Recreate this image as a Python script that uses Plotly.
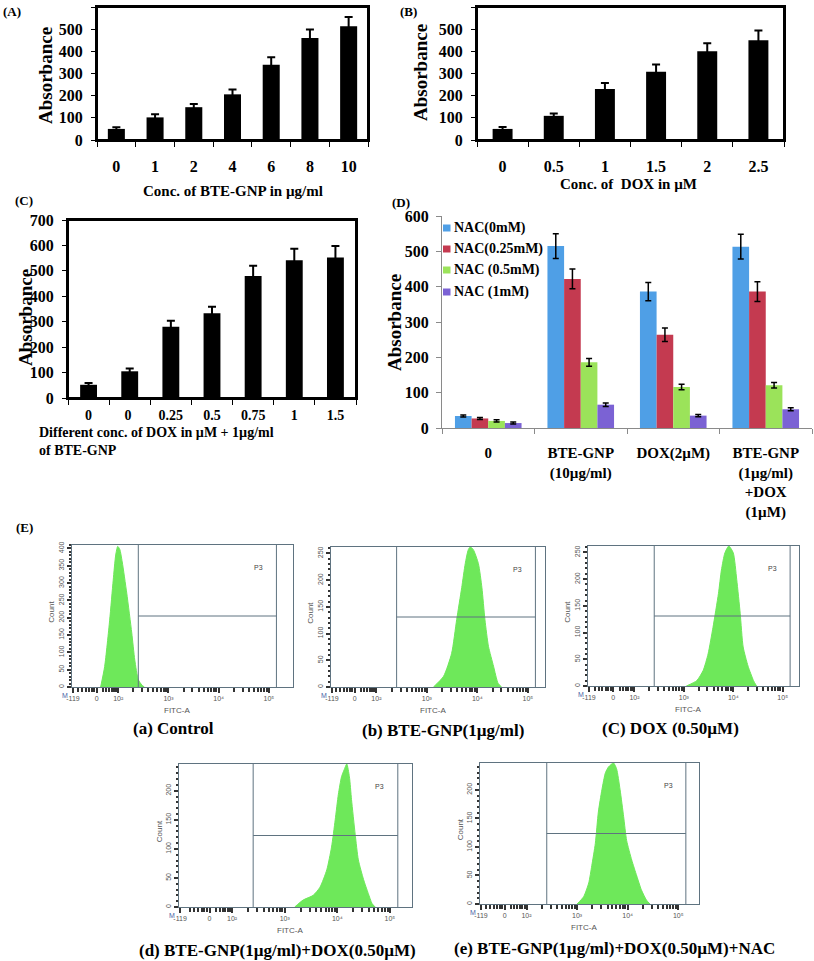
import numpy as np
import plotly.graph_objects as go

W, H = 814, 961

# ---------------- data ----------------
a_cats = ["0", "1", "2", "4", "6", "8", "10"]
a_vals = [50, 102, 148, 206, 340, 460, 513]
a_errs = [8, 14, 14, 22, 33, 38, 42]

b_cats = ["0", "0.5", "1", "1.5", "2", "2.5"]
b_vals = [50, 109, 230, 308, 400, 450]
b_errs = [9, 11, 27, 33, 37, 44]

c_cats = ["0", "0 ", "0.25", "0.5", "0.75", "1", "1.5"]
c_vals = [52, 105, 280, 333, 480, 542, 553]
c_errs = [7, 11, 24, 26, 40, 45, 45]

d_cats = ["0", "BTE-GNP<br>(10µg/ml)", "DOX(2µM)", "BTE-GNP<br>(1µg/ml)<br>+DOX<br>(1µM)"]
d_series = ["NAC(0mM)", "NAC(0.25mM)", "NAC (0.5mM)", "NAC (1mM)"]
d_nac0 = [34, 515, 386, 513]
d_nac025 = [27, 422, 264, 386]
d_nac05 = [20, 186, 116, 121]
d_nac1 = [14, 66, 35, 53]
d_err0 = [3, 35, 26, 35]
d_err025 = [3, 28, 19, 28]
d_err05 = [3, 11, 8, 8]
d_err1 = [3, 5, 3, 4]

# flow cytometry histograms (x in log-decade units of FITC-A, y = count)
fa_x = [1.65, 1.73, 1.83, 1.90, 1.95, 1.99, 2.03, 2.08, 2.17, 2.27, 2.33, 2.40, 2.47, 2.52]
fa_y = [0, 59, 193, 308, 381, 406, 398, 361, 271, 156, 78, 21, 6, 0]
fb_x = [3.13, 3.33, 3.49, 3.59, 3.69, 3.76, 3.82, 3.86, 3.92, 4.02, 4.09, 4.15, 4.22, 4.32, 4.41, 4.48]
fb_y = [0, 20, 63, 126, 186, 231, 257, 262, 257, 231, 186, 126, 76, 39, 7, 0]
fc_x = [3.05, 3.26, 3.39, 3.49, 3.59, 3.70, 3.76, 3.83, 3.91, 4.00, 4.07, 4.14, 4.20, 4.30, 4.41, 4.47]
fc_y = [0, 10, 29, 60, 110, 173, 217, 249, 262, 249, 199, 136, 73, 37, 10, 0]
fd_x = [3.19, 3.35, 3.54, 3.67, 3.80, 3.89, 3.96, 4.02, 4.08, 4.13, 4.18, 4.23, 4.27, 4.34, 4.40, 4.50, 4.59, 4.66, 4.72]
fd_y = [0, 12, 20, 34, 64, 103, 150, 194, 224, 236, 246, 224, 185, 125, 81, 47, 23, 6, 0]
fe_x = [3.00, 3.13, 3.23, 3.29, 3.36, 3.42, 3.49, 3.56, 3.62, 3.72, 3.78, 3.85, 3.92, 3.98, 4.08, 4.18, 4.27, 4.37, 4.44]
fe_y = [0, 13, 37, 67, 106, 161, 200, 230, 240, 247, 237, 200, 153, 111, 77, 49, 25, 7, 0]
flow_labels = ["(a) Control", "(b) BTE-GNP(1µg/ml)", "(C) DOX (0.50µM)",
               "(d) BTE-GNP(1µg/ml)+DOX(0.50µM)", "(e) BTE-GNP(1µg/ml)+DOX(0.50µM)+NAC"]
flow_ymax = [410, 262, 262, 246, 247]
flow_tick_text = ["-119", "0", "10²", "10³", "10⁴", "10⁵"]

# ---------------- helpers ----------------
def px(x):
    return x / W

def py(y):
    return 1 - y / H

SERIF = "Liberation Serif"
SANS = "Liberation Sans"
BOLD = dict(family=SERIF, color="black", weight="bold")

fig = go.Figure()
layout = dict(width=W, height=H, margin=dict(l=0, r=0, t=0, b=0, pad=0, autoexpand=False),
              plot_bgcolor="white", paper_bgcolor="white",
              barmode="group", bargap=0.28, bargroupgap=0,
              showlegend=False)
annotations = []
shapes = []

def ann(text, x, y, size, angle=0, font=None, xanchor="center", yanchor="middle", align="center"):
    f = dict(BOLD) if font is None else dict(font)
    f["size"] = size
    annotations.append(dict(text=text, x=px(x), y=py(y), xref="paper", yref="paper",
                            showarrow=False, textangle=angle, font=f,
                            xanchor=xanchor, yanchor=yanchor, align=align))

# ---------------- panels A, B, C ----------------
simple = [
    (1, a_cats, a_vals, a_errs, (97, 368), (7, 140), 600, 0.44, 16, 11),
    (2, b_cats, b_vals, b_errs, (477, 784), (7, 140), 600, 0.39, 16, 11),
    (3, c_cats, c_vals, c_errs, (68, 356), (220, 398), 700, 0.41, 14, 3),
]
for idx, cats, vals, errs, xd, yd, ymax, bw, xfs, xstand in simple:
    sfx = "" if idx == 1 else str(idx)
    fig.add_trace(go.Bar(x=cats, y=vals, width=bw, marker=dict(color="black", line=dict(width=0)),
                         error_y=dict(type="data", array=errs, color="black", thickness=2, width=4),
                         xaxis="x" + sfx, yaxis="y" + sfx, showlegend=False))
    layout["xaxis" + sfx] = dict(domain=[px(xd[0]), px(xd[1])], anchor="y" + sfx, automargin=False,
                                 type="category", showline=True, mirror=True, linecolor="black", linewidth=2,
                                 ticks="outside", tickson="boundaries", ticklen=5, tickcolor="black", tickwidth=1,
                                 tickfont=dict(BOLD, size=xfs), ticklabelstandoff=xstand,
                                 showgrid=False, zeroline=False)
    layout["yaxis" + sfx] = dict(domain=[py(yd[1]), py(yd[0])], anchor="x" + sfx, automargin=False,
                                 range=[0, ymax], dtick=100, showline=True, mirror=True, linecolor="black",
                                 linewidth=2, ticks="outside", ticklen=4, tickcolor="black",
                                 tickfont=dict(BOLD, size=16), ticklabelstandoff=5, showgrid=False, zeroline=False)
    shapes.append(dict(type="rect", xref="paper", yref="paper", x0=px(xd[0]), x1=px(xd[1]),
                       y0=py(yd[1]), y1=py(yd[0]), line=dict(color="black", width=2), layer="above"))

# ---------------- panel D ----------------
d_colors = ["#4f9fe6", "#c43a50", "#9be35a", "#7b62d4"]
for name, vals, errs, col in zip(d_series, [d_nac0, d_nac025, d_nac05, d_nac1],
                                 [d_err0, d_err025, d_err05, d_err1], d_colors):
    fig.add_trace(go.Bar(x=d_cats, y=vals, name=name, marker=dict(color=col, line=dict(width=0)),
                         error_y=dict(type="data", array=errs, color="black", thickness=1.5, width=3),
                         xaxis="x4", yaxis="y4"))
layout["xaxis4"] = dict(domain=[px(442), px(812)], anchor="y4", type="category", automargin=False,
                        showline=True, linecolor="#8a8a8a", linewidth=1, ticks="outside", tickson="boundaries",
                        ticklen=5, tickcolor="#8a8a8a", tickfont=dict(BOLD, size=15), ticklabelstandoff=11,
                        showgrid=False, zeroline=False)
layout["yaxis4"] = dict(domain=[py(428), py(216)], anchor="x4", range=[0, 600], dtick=100, automargin=False,
                        showline=True, linecolor="#8a8a8a", linewidth=1, ticks="outside", ticklen=5,
                        tickcolor="#8a8a8a", tickfont=dict(BOLD, size=16), ticklabelstandoff=4,
                        showgrid=False, zeroline=False)
# legend (drawn as colour squares + real text)
legend_y = [228, 249, 270, 292]
for name, col, ly in zip(d_series, d_colors, legend_y):
    shapes.append(dict(type="rect", xref="paper", yref="paper", x0=px(443), x1=px(450.5),
                       y0=py(ly + 3.5), y1=py(ly - 3.5), fillcolor=col, line=dict(width=0)))
    ann(name, 452, ly, 14, xanchor="left")

# ---------------- flow cytometry panels ----------------
flow_boxes = [  # (x px range, y px range, data x range)
    ((72, 293), (545, 687), (1.08, 5.48)),
    ((331, 545), (547, 687), (1.10, 5.34)),
    ((588, 799), (546, 686), (1.06, 5.33)),
    ((179, 412), (764, 907), (0.99, 5.42)),
    ((480, 699), (763, 904), (1.08, 5.41)),
]
gate_left, gate_right = 2.40, 5.15
minor_x = [1.2, 1.28, 1.35, 1.42, 1.47, 1.52, 1.7, 1.76, 1.82, 1.87, 1.92, 1.96] + \
          [d + np.log10(k) for d in (2, 3, 4) for k in range(2, 10)]
GREEN = "#6ee85a"
FRAME = "#5f7380"
flows = [(fa_x, fa_y), (fb_x, fb_y), (fc_x, fc_y), (fd_x, fd_y), (fe_x, fe_y)]
for i, ((hx, hy), (xpx, ypx, xr), ymax) in enumerate(zip(flows, flow_boxes, flow_ymax)):
    n = i + 5
    sx, sy = "x%d" % n, "y%d" % n
    fig.add_trace(go.Scatter(x=hx, y=hy, mode="lines", fill="tozeroy", fillcolor=GREEN,
                             line=dict(color=GREEN, width=1, shape="spline", smoothing=0.6),
                             xaxis=sx, yaxis=sy, showlegend=False, hoverinfo="skip"))
    layout["xaxis%d" % n] = dict(domain=[px(xpx[0]), px(xpx[1])], anchor=sy, range=list(xr), automargin=False,
                                 showline=True, mirror=True, linecolor=FRAME, linewidth=1,
                                 tickvals=[xr[0] + 0.02, 1.57, 2, 3, 4, 5], ticktext=flow_tick_text,
                                 ticks="outside", ticklen=5, tickwidth=1.5, tickcolor="#333",
                                 minor=dict(tickvals=minor_x, ticks="outside", ticklen=4, tickwidth=1.5,
                                            tickcolor="#333"),
                                 tickfont=dict(family=SANS, size=7, color="#555"),
                                 showgrid=False, zeroline=False)
    layout["yaxis%d" % n] = dict(domain=[py(ypx[1]), py(ypx[0])], anchor=sx, range=[0, ymax], automargin=False,
                                 showline=True, mirror=True, linecolor=FRAME, linewidth=1,
                                 dtick=50, ticks="outside", ticklen=4, tickwidth=1.5, tickcolor="#333",
                                 minor=dict(dtick=10, ticks="outside", ticklen=2, tickwidth=1.5, tickcolor="#333"),
                                 tickangle=-90, tickfont=dict(family=SANS, size=7, color="#555"),
                                 showgrid=False, zeroline=False)
    # gate lines
    for x0, y0, x1, y1 in [(gate_left, 0, gate_left, ymax), (gate_right, 0, gate_right, ymax),
                           (gate_left, ymax / 2, gate_right, ymax / 2)]:
        shapes.append(dict(type="line", xref=sx, yref=sy, x0=x0, y0=y0, x1=x1, y1=y1,
                           line=dict(color=FRAME, width=1)))
    annotations.append(dict(text="P3", x=4.8, y=0.84 * ymax, xref=sx, yref=sy, showarrow=False,
                            font=dict(family=SANS, size=7, color="#444")))
    ann("Count", xpx[0] - 20, ypx[1] - 0.53 * (ypx[1] - ypx[0]), 8, angle=-90,
        font=dict(family=SANS, color="#555"))
    ann("FITC-A", xpx[0] + 0.475 * (xpx[1] - xpx[0]), ypx[1] + 23, 8, font=dict(family=SANS, color="#555"))
    ann("M", xpx[0] - 7, ypx[1] + 8, 7, font=dict(family=SANS, color="#4a5fa8"))

# ---------------- texts ----------------
ann("(A)", 12, 12, 13)
ann("(B)", 409, 12, 13)
ann("(C)", 24, 201, 13)
ann("(D)", 401, 202, 13)
ann("(E)", 24, 527, 13)
ann("Absorbance", 45, 76, 19, angle=-90)
ann("Absorbance", 420, 73, 19, angle=-90)
ann("Absorbance", 25, 318, 19, angle=-90)
ann("Absorbance", 394, 323, 19, angle=-90)
ann("Conc. of BTE-GNP in µg/ml", 233, 191, 15)
ann("Conc. of  DOX in µM", 628, 184, 15)
ann("Different conc. of DOX in µM + 1µg/ml<br>of BTE-GNP", 37, 442, 14,
    xanchor="left", align="left")
label_pos = [(173, 728), (443, 730), (670, 728), (277, 950), (614, 948)]
for lab, (x, y) in zip(flow_labels, label_pos):
    ann(lab, x, y, 17)

layout["annotations"] = annotations
layout["shapes"] = shapes
fig.update_layout(**layout)
fig.write_html("out.html", config={"displayModeBar": False},
               post_script="document.body.style.margin='0px';document.body.style.overflow='hidden';")
